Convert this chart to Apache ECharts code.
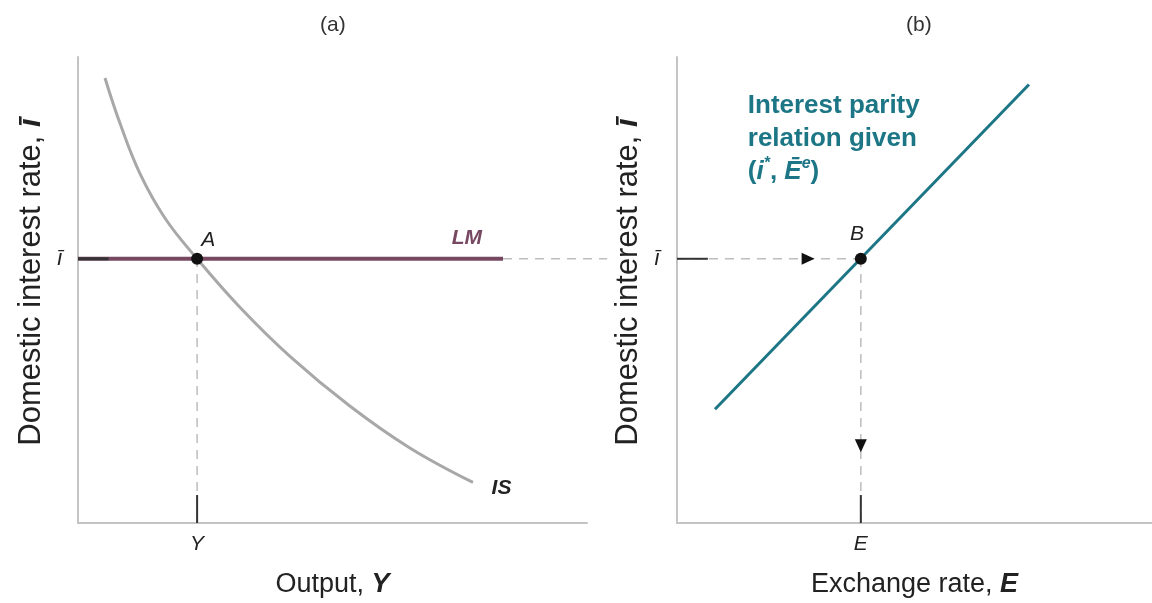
<!DOCTYPE html>
<html>
<head>
<meta charset="utf-8">
<script src="https://cdn.jsdelivr.net/npm/echarts@6/dist/echarts.min.js"></script>
<style>
html,body{margin:0;padding:0;background:#ffffff;}
#chart{width:1152px;height:603px;}
</style>
</head>
<body>
<div id="chart"></div>
<script>
// ---- data (abstract 0-100 units on both panels) ----
const isCurve = [[5.3,95.5],[8.3,85.6],[12.2,74.9],[17.1,65.4],[23.4,56.7],[31.8,46.3],[41.7,35.7],[53.4,25.1],[65.2,16.1],[77.6,8.7]];
const lmLine = [[0,56.7],[83.5,56.7]];
const parityLine = [[8.0,24.4],[74.1,94.1]];
const iBar = 56.7;      // domestic interest rate
const yEq = 23.4;       // equilibrium output
const eEq = 38.7;       // equilibrium exchange rate
const lmEnd = 83.5;
const connectorEndB = -14.7; // where the cross-panel guide stops, in panel (b) units
const tickLen = 6;
const panelTitles = ['(a)', '(b)'];
const xNames = ['Output, ', 'Exchange rate, '];
const xVars = ['Y', 'E'];
const yName = 'Domestic interest rate, ';

const FONT = '"Liberation Sans", Arial, Helvetica, sans-serif';
const AXIS_GRAY = '#c4c4c4';
const DASH_GRAY = '#bdbdbd';
const DARK = '#333333';
const LM_COLOR = '#774862';
const TEAL = '#1d7686';
const IS_GRAY = '#a8a8a8';

const chart = echarts.init(document.getElementById('chart'), null, {renderer:'canvas'});

function axisBase(){
  return {
    type:'value', min:0, max:100,
    axisLine:{show:true, lineStyle:{color:AXIS_GRAY, width:2}},
    axisTick:{show:false}, axisLabel:{show:false}, splitLine:{show:false}
  };
}
function xAxis(i){
  return Object.assign(axisBase(), {
    gridIndex:i,
    name: xNames[i] + '{v|' + xVars[i] + '}',
    nameLocation:'middle', nameGap:48,
    nameTextStyle:{fontFamily:FONT, fontSize:27, color:'#222', fontWeight:'normal',
      rich:{v:{fontFamily:FONT, fontSize:27, color:'#222', fontWeight:'bold', fontStyle:'italic'}}}
  });
}
function yAxis(i){
  return Object.assign(axisBase(), {
    gridIndex:i,
    name: yName + '{v|ī}',
    nameLocation:'middle', nameGap: i===0 ? 31 : 33,
    nameTextStyle:{fontFamily:FONT, fontSize:31, color:'#222', fontWeight:'normal', padding:[0,0,0,16],
      rich:{v:{fontFamily:FONT, fontSize:31, color:'#222', fontWeight:'bold', fontStyle:'italic'}}}
  });
}
function seg(i, data, color, width, type, z){
  return {type:'line', xAxisIndex:i, yAxisIndex:i, data:data, showSymbol:false, symbol:'none',
    lineStyle:{color:color, width:width, type:type||'solid'}, clip:false, silent:true, z:z||2, animation:false};
}
function textPoint(i, pt, text, style, pos){
  return {type:'scatter', xAxisIndex:i, yAxisIndex:i, data:[pt], symbolSize:0, clip:false, silent:true, z:10, animation:false,
    itemStyle:{opacity:1},
    label:Object.assign({show:true, position:pos||'inside', formatter:text, fontFamily:FONT, opacity:1}, style)};
}
function marker(i, pt, symbol, size, rotate){
  return {type:'scatter', xAxisIndex:i, yAxisIndex:i, data:[pt], symbol:symbol, symbolSize:size, symbolRotate:rotate||0,
    itemStyle:{color:'#111', opacity:1}, z:6, silent:true, animation:false};
}

const option = {
  backgroundColor:'#ffffff',
  animation:false,
  grid:[
    {left:78, top:57, width:509, height:474},
    {left:677, top:57, width:475, height:474}
  ],
  xAxis:[xAxis(0), xAxis(1)],
  yAxis:[yAxis(0), yAxis(1)],
  series:[
    // panel (a)
    seg(0, [[yEq,0],[yEq,iBar]], DASH_GRAY, 1.5, [9,7], 1),
    seg(0, lmLine, LM_COLOR, 4, 'solid', 3),
    {type:'line', xAxisIndex:0, yAxisIndex:0, data:isCurve, smooth:0.4, showSymbol:false, symbol:'none',
      lineStyle:{color:IS_GRAY, width:3}, z:2, silent:true, animation:false},
    seg(0, [[0,iBar],[tickLen,iBar]], DARK, 3, 'solid', 4),
    seg(0, [[yEq,0],[yEq,tickLen]], DARK, 2, 'solid', 4),
    marker(0, [yEq,iBar], 'circle', 12),
    textPoint(0, [25.6,60.8], 'A', {fontSize:21, fontStyle:'italic', color:'#222'}),
    textPoint(0, [76.4,61.2], 'LM', {fontSize:21, fontStyle:'italic', fontWeight:'bold', color:LM_COLOR}),
    textPoint(0, [83.2,7.4], 'IS', {fontSize:21, fontStyle:'italic', fontWeight:'bold', color:'#222'}),
    textPoint(0, [yEq,-4.5], 'Y', {fontSize:21, fontStyle:'italic', color:'#222'}),
    textPoint(0, [-3.6,iBar], 'ī', {fontSize:22, fontStyle:'italic', color:'#222'}),
    // panel (b)
    seg(1, [[0,iBar],[eEq,iBar]], DASH_GRAY, 1.5, [9,7], 1),
    seg(1, [[eEq,0],[eEq,iBar]], DASH_GRAY, 1.5, [9,7], 1),
    seg(1, parityLine, TEAL, 3, 'solid', 3),
    seg(1, [[0,iBar],[tickLen+0.5,iBar]], DARK, 2, 'solid', 4),
    seg(1, [[eEq,0],[eEq,tickLen]], DARK, 2, 'solid', 4),
    marker(1, [27.6,iBar], 'triangle', [12,13], -90),
    marker(1, [eEq,16.6], 'triangle', [12,13], 180),
    marker(1, [eEq,iBar], 'circle', 12),
    textPoint(1, [37.9,61.9], 'B', {fontSize:21, fontStyle:'italic', color:'#222'}),
    textPoint(1, [eEq,-4.5], 'E', {fontSize:21, fontStyle:'italic', color:'#222'}),
    textPoint(1, [-4.2,iBar], 'ī', {fontSize:22, fontStyle:'italic', color:'#222'}),
    textPoint(1, [14.9,93.0], 'Interest parity\nrelation given\n({bi|i}{sup|*}, {bi|Ē}{sup|e})', {
      fontSize:26, fontWeight:'bold', color:TEAL, lineHeight:33, align:'left', verticalAlign:'top',
      rich:{
        bi:{fontFamily:FONT, fontSize:26, fontWeight:'bold', fontStyle:'italic', color:TEAL, lineHeight:33},
        sup:{fontFamily:FONT, fontSize:16, fontWeight:'bold', fontStyle:'italic', color:TEAL, verticalAlign:'top', lineHeight:33, padding:[0,0,10,0]}
      }
    })
  ]
};
chart.setOption(option);

// cross-panel dashed guide: endpoints converted through each grid's own scales
const p0 = chart.convertToPixel({gridIndex:0}, [lmEnd, iBar]);
const p1 = chart.convertToPixel({gridIndex:1}, [connectorEndB, iBar]);
chart.setOption({
  graphic:[
    {type:'text', left:320, top:15, style:{text:panelTitles[0], font:'21px '+FONT, fill:'#333'}},
    {type:'text', left:906, top:15, style:{text:panelTitles[1], font:'21px '+FONT, fill:'#333'}},
    {type:'line', z:1, silent:true, shape:{x1:p0[0], y1:p0[1], x2:p1[0], y2:p1[1]},
      style:{stroke:DASH_GRAY, lineWidth:1.5, lineDash:[9,7]}}
  ]
});
</script>
</body>
</html>
